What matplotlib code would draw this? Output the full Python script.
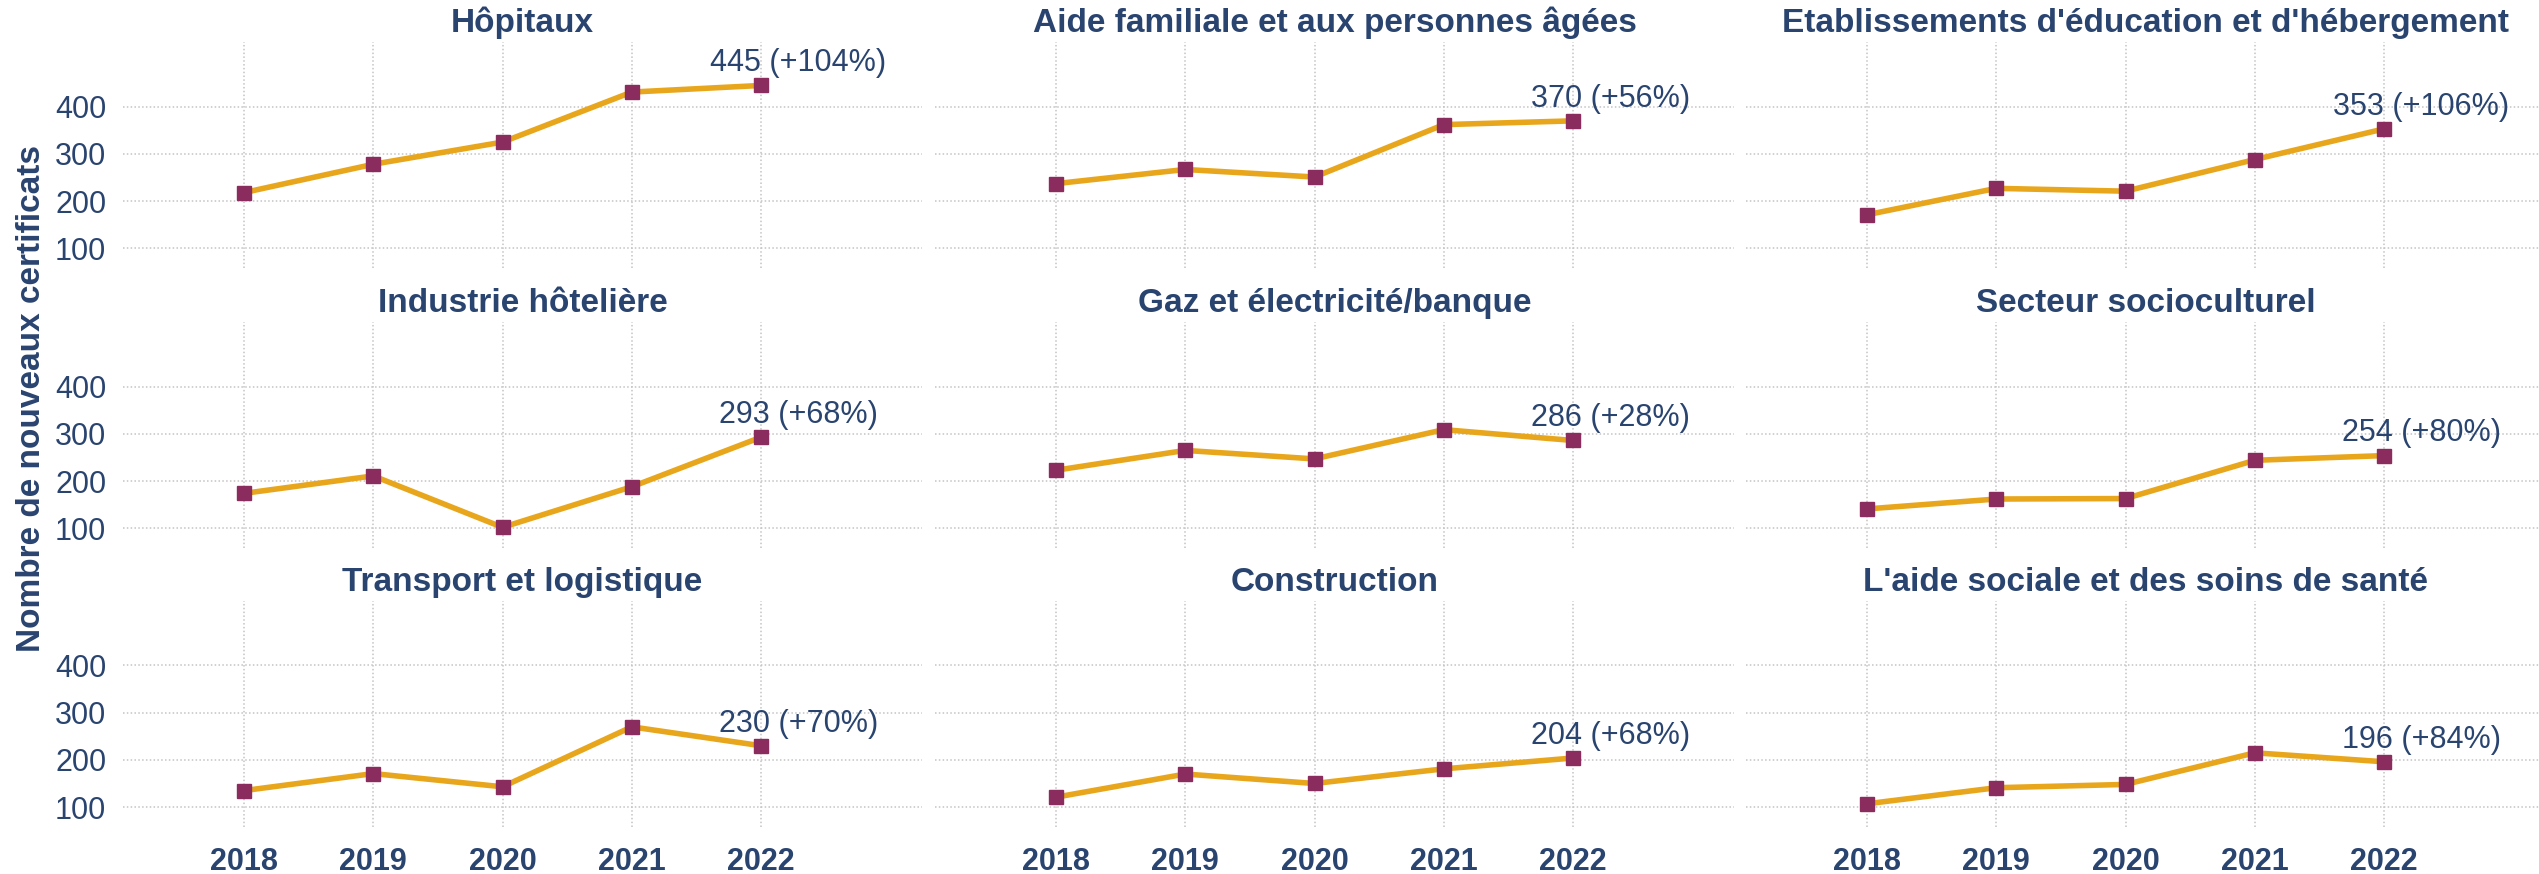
import matplotlib
matplotlib.use("Agg")
import matplotlib.pyplot as plt

plt.rcParams['font.family'] = ['Liberation Sans', 'DejaVu Sans']

years = [2018, 2019, 2020, 2021, 2022]

titles = [
    "Hôpitaux",
    "Aide familiale et aux personnes âgées",
    "Etablissements d'éducation et d'hébergement",
    "Industrie hôtelière",
    "Gaz et électricité/banque",
    "Secteur socioculturel",
    "Transport et logistique",
    "Construction",
    "L'aide sociale et des soins de santé",
]

hopitaux = [218, 278, 325, 431, 445]
aide_familiale = [237, 267, 251, 362, 370]
etablissements = [171, 227, 221, 288, 353]
hoteliere = [174, 211, 102, 188, 293]
gaz_banque = [223, 265, 247, 309, 286]
socioculturel = [141, 162, 163, 244, 254]
transport = [135, 171, 143, 270, 230]
construction = [121, 170, 150, 181, 204]
aide_sociale = [107, 141, 148, 215, 196]

series = [hopitaux, aide_familiale, etablissements, hoteliere, gaz_banque,
          socioculturel, transport, construction, aide_sociale]

end_labels = ["445 (+104%)", "370 (+56%)", "353 (+106%)", "293 (+68%)",
              "286 (+28%)", "254 (+80%)", "230 (+70%)", "204 (+68%)",
              "196 (+84%)"]

y_ticks = [100, 200, 300, 400]
y_label = "Nombre de nouveaux certificats"

NAVY = '#2a4470'
LINE = '#e8a61c'
MARK = '#8a2c5e'
GRID = '#c4c4c4'

W, H = 2539, 874
fig = plt.figure(figsize=(W / 100, H / 100), dpi=100)

col_left = [123, 935, 1746]
panel_w = 799
row_top = [41.7, 321.7, 600.5]
panel_h = 226.6

for i, (title, vals, lab) in enumerate(zip(titles, series, end_labels)):
    r, c = divmod(i, 3)
    ax = fig.add_axes([col_left[c] / W, 1 - (row_top[r] + panel_h) / H,
                       panel_w / W, panel_h / H])
    ax.plot(years, vals, color=LINE, lw=4, solid_capstyle='round', zorder=3)
    ax.plot(years, vals, ls='none', marker='s', ms=10, color=MARK,
            mec=MARK, zorder=4)
    ax.annotate(lab, (years[-1], vals[-1]), xytext=(27, 16),
                textcoords='offset points', ha='center', va='center',
                fontsize=22, color=NAVY, zorder=5)
    ax.set_xlim(2017.064, 2023.245)
    ax.set_ylim(57.6, 537.7)
    ax.set_xticks(years)
    ax.set_yticks(y_ticks)
    ax.grid(True, color=GRID, ls=(0, (1, 1.5)), lw=1.1)
    ax.set_axisbelow(True)
    for s in ax.spines.values():
        s.set_visible(False)
    ax.tick_params(length=0, colors=NAVY)
    ax.set_title(title, fontsize=24, fontweight='bold', color=NAVY, pad=7)
    if c == 0:
        ax.set_yticklabels([str(t) for t in y_ticks], fontsize=22, color=NAVY)
        ax.tick_params(axis='y', pad=12)
    else:
        ax.set_yticklabels([])
    if r == 2:
        ax.set_xticklabels([str(y) for y in years], fontsize=22,
                           fontweight='bold', color=NAVY)
        ax.tick_params(axis='x', pad=14)
    else:
        ax.set_xticklabels([])

fig.text(32 / W, 1 - 398 / H, y_label, rotation=90, ha='center', va='center',
         fontsize=24, fontweight='bold', color=NAVY)

fig.savefig('out.png', dpi=100, facecolor='white')
